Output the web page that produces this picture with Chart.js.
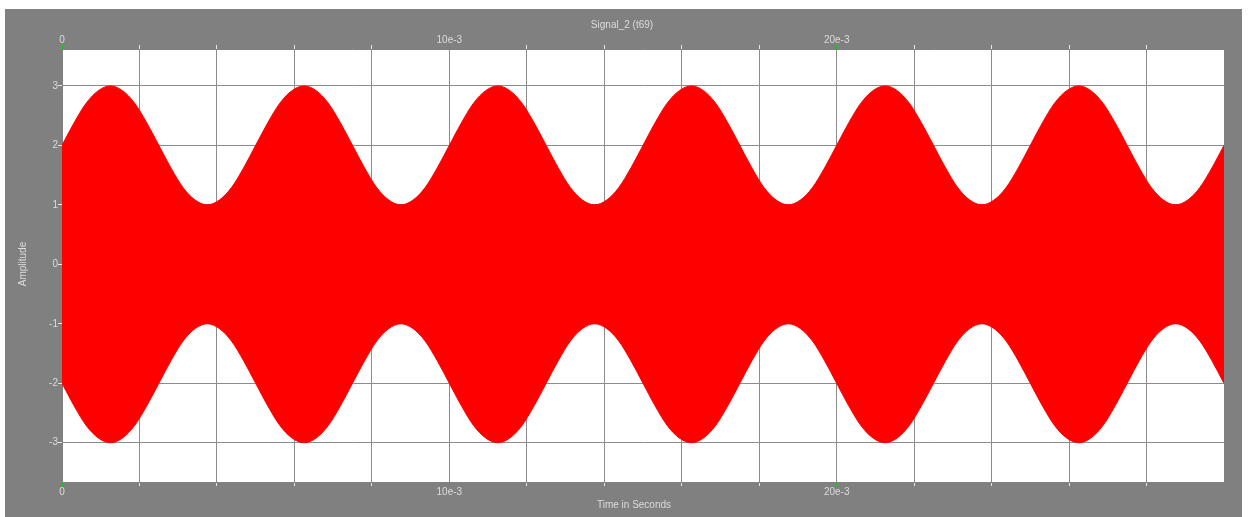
<!DOCTYPE html>
<html>
<head>
<meta charset="utf-8">
<title>Signal_2 (t69)</title>
<style>
  html, body { margin: 0; padding: 0; background: #ffffff; }
  #wrap { width: 1250px; height: 517px; }
  canvas { display: block; }
</style>
<script src="https://cdn.jsdelivr.net/npm/chart.js@4.4.1/dist/chart.umd.min.js"></script>
</head>
<body>
<div id="wrap"><canvas id="signal" width="1250" height="517"></canvas></div>
<script>
// Sample times of the envelope readings (milliseconds)
const timeMs = [
  0, 0.3125, 0.625, 0.9375, 1.25, 1.5625, 1.875, 2.1875, 2.5, 2.8125, 3.125, 3.4375, 3.75, 4.0625, 4.375, 4.6875,
  5, 5.3125, 5.625, 5.9375, 6.25, 6.5625, 6.875, 7.1875, 7.5, 7.8125, 8.125, 8.4375, 8.75, 9.0625, 9.375, 9.6875,
  10, 10.3125, 10.625, 10.9375, 11.25, 11.5625, 11.875, 12.1875, 12.5, 12.8125, 13.125, 13.4375, 13.75, 14.0625, 14.375, 14.6875,
  15, 15.3125, 15.625, 15.9375, 16.25, 16.5625, 16.875, 17.1875, 17.5, 17.8125, 18.125, 18.4375, 18.75, 19.0625, 19.375, 19.6875,
  20, 20.3125, 20.625, 20.9375, 21.25, 21.5625, 21.875, 22.1875, 22.5, 22.8125, 23.125, 23.4375, 23.75, 24.0625, 24.375, 24.6875,
  25, 25.3125, 25.625, 25.9375, 26.25, 26.5625, 26.875, 27.1875, 27.5, 27.8125, 28.125, 28.4375, 28.75, 29.0625, 29.375, 29.6875,
  30
];

// Upper edge of the signal swing (amplitude)
const envelopeTop = [
  2, 2.38, 2.71, 2.92, 3, 2.92, 2.71, 2.38, 2, 1.62, 1.29, 1.08, 1, 1.08, 1.29, 1.62,
  2, 2.38, 2.71, 2.92, 3, 2.92, 2.71, 2.38, 2, 1.62, 1.29, 1.08, 1, 1.08, 1.29, 1.62,
  2, 2.38, 2.71, 2.92, 3, 2.92, 2.71, 2.38, 2, 1.62, 1.29, 1.08, 1, 1.08, 1.29, 1.62,
  2, 2.38, 2.71, 2.92, 3, 2.92, 2.71, 2.38, 2, 1.62, 1.29, 1.08, 1, 1.08, 1.29, 1.62,
  2, 2.38, 2.71, 2.92, 3, 2.92, 2.71, 2.38, 2, 1.62, 1.29, 1.08, 1, 1.08, 1.29, 1.62,
  2, 2.38, 2.71, 2.92, 3, 2.92, 2.71, 2.38, 2, 1.62, 1.29, 1.08, 1, 1.08, 1.29, 1.62,
  2
];

// Lower edge of the signal swing (amplitude)
const envelopeBottom = [
  -2, -2.38, -2.71, -2.92, -3, -2.92, -2.71, -2.38, -2, -1.62, -1.29, -1.08, -1, -1.08, -1.29, -1.62,
  -2, -2.38, -2.71, -2.92, -3, -2.92, -2.71, -2.38, -2, -1.62, -1.29, -1.08, -1, -1.08, -1.29, -1.62,
  -2, -2.38, -2.71, -2.92, -3, -2.92, -2.71, -2.38, -2, -1.62, -1.29, -1.08, -1, -1.08, -1.29, -1.62,
  -2, -2.38, -2.71, -2.92, -3, -2.92, -2.71, -2.38, -2, -1.62, -1.29, -1.08, -1, -1.08, -1.29, -1.62,
  -2, -2.38, -2.71, -2.92, -3, -2.92, -2.71, -2.38, -2, -1.62, -1.29, -1.08, -1, -1.08, -1.29, -1.62,
  -2, -2.38, -2.71, -2.92, -3, -2.92, -2.71, -2.38, -2, -1.62, -1.29, -1.08, -1, -1.08, -1.29, -1.62,
  -2
];

// Time axis: grid every 2 ms, labels at 0, 10 ms and 20 ms
const xGridMs = [0, 2, 4, 6, 8, 10, 12, 14, 16, 18, 20, 22, 24, 26, 28];
const xLabelMs = [0, 10, 20];
const xLabelText = ['0', '10e-3', '20e-3'];

// Amplitude axis ticks
const yTicks = [-3, -2, -1, 0, 1, 2, 3];

const chartTitle = 'Signal_2 (t69)';
const xTitle = 'Time in Seconds';
const yTitle = 'Amplitude';

const PANEL = '#808080';
const GRID = '#8c8c8c';
const TEXT = '#dcdcdc';
const TICK = '#e6e6e6';
const TICK_LABELLED = '#00d000';
const SIGNAL = '#ff0000';
const FONT = { family: '"Liberation Sans", Arial, sans-serif', size: 10, lineHeight: 1 };

function xLabelFor(value) {
  const i = xLabelMs.indexOf(Math.round(value * 1000) / 1000);
  return i >= 0 ? xLabelText[i] : '';
}

function xTickColor(ctx) {
  return ctx.tick && xLabelMs.includes(ctx.tick.value) ? TICK_LABELLED : TICK;
}

// Grey panel behind the chart and white plotting area
const panelPlugin = {
  id: 'panel',
  beforeDraw(chart) {
    const { ctx, chartArea } = chart;
    ctx.save();
    ctx.fillStyle = '#ffffff';
    ctx.fillRect(0, 0, chart.width, chart.height);
    ctx.fillStyle = PANEL;
    ctx.fillRect(5, 9, 1237, chart.height - 9);
    ctx.fillStyle = '#ffffff';
    ctx.fillRect(chartArea.left, chartArea.top,
      chartArea.right - chartArea.left, chartArea.bottom - chartArea.top);
    ctx.restore();
  }
};

// Chart title and axis titles
const titlePlugin = {
  id: 'panelTitles',
  afterDraw(chart) {
    const { ctx } = chart;
    ctx.save();
    ctx.fillStyle = TEXT;
    ctx.font = '10px "Liberation Sans", Arial, sans-serif';
    ctx.textAlign = 'center';
    ctx.textBaseline = 'middle';
    ctx.fillText(chartTitle, 622, 25);
    ctx.fillText(xTitle, 634, 505);
    ctx.translate(23, 264);
    ctx.rotate(-Math.PI / 2);
    ctx.fillText(yTitle, 0, 0);
    ctx.restore();
  }
};

const xScaleBase = {
  type: 'linear',
  min: 0,
  max: 30,
  afterBuildTicks(scale) {
    scale.ticks = xGridMs.map(v => ({ value: v }));
  },
  ticks: {
    autoSkip: false,
    maxRotation: 0,
    color: TEXT,
    font: FONT,
    callback: (value) => xLabelFor(value)
  },
  border: { display: true, color: PANEL, width: 1 },
  grid: {
    color: GRID,
    lineWidth: 1,
    drawTicks: true,
    tickLength: 4,
    tickColor: xTickColor
  }
};

new Chart(document.getElementById('signal'), {
  type: 'line',
  data: {
    datasets: [
      {
        label: 'Signal_2',
        data: timeMs.map((t, i) => ({ x: t, y: envelopeTop[i] })),
        borderColor: SIGNAL,
        backgroundColor: SIGNAL,
        borderWidth: 1,
        pointRadius: 0,
        cubicInterpolationMode: 'monotone',
        fill: '+1'
      },
      {
        label: 'Signal_2 lower',
        data: timeMs.map((t, i) => ({ x: t, y: envelopeBottom[i] })),
        borderColor: SIGNAL,
        backgroundColor: SIGNAL,
        borderWidth: 1,
        pointRadius: 0,
        cubicInterpolationMode: 'monotone',
        fill: false
      }
    ]
  },
  options: {
    responsive: false,
    animation: false,
    devicePixelRatio: 1,
    layout: { padding: { left: 0, right: 26, top: 0, bottom: 0 } },
    plugins: {
      legend: { display: false },
      title: { display: false },
      tooltip: { enabled: false }
    },
    scales: {
      x: Object.assign({}, xScaleBase, {
        position: 'bottom',
        afterFit(scale) { scale.height = 35; },
        ticks: Object.assign({}, xScaleBase.ticks, { padding: 1 })
      }),
      x2: Object.assign({}, xScaleBase, {
        position: 'top',
        afterFit(scale) { scale.height = 49; },
        ticks: Object.assign({}, xScaleBase.ticks, { padding: 0 }),
        grid: Object.assign({}, xScaleBase.grid, { drawOnChartArea: false })
      }),
      y: {
        type: 'linear',
        position: 'left',
        min: -3.66,
        max: 3.62,
        afterFit(scale) { scale.width = 62; },
        afterBuildTicks(scale) {
          scale.ticks = yTicks.map(v => ({ value: v }));
        },
        ticks: {
          color: TEXT,
          font: FONT,
          padding: 0,
          callback: (value) => String(value)
        },
        border: { display: true, color: PANEL, width: 1 },
        grid: {
          color: GRID,
          lineWidth: 1,
          drawTicks: true,
          tickLength: 4,
          tickColor: TICK
        }
      }
    }
  },
  plugins: [panelPlugin, titlePlugin]
});
</script>
</body>
</html>
